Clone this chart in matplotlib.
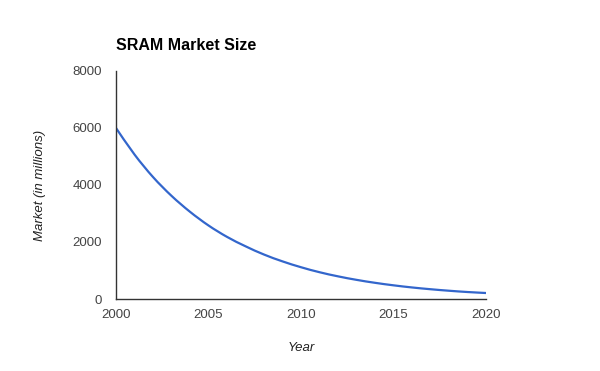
import matplotlib
matplotlib.use("Agg")
import matplotlib.pyplot as plt
from matplotlib.path import Path
from matplotlib.patches import PathPatch

years = [2000, 2001, 2002, 2003, 2004, 2005, 2006, 2007, 2008, 2009, 2010,
         2011, 2012, 2013, 2014, 2015, 2016, 2017, 2018, 2019, 2020]
market = [6000, 5070, 4280, 3620, 3060, 2580, 2180, 1850, 1560, 1320, 1115,
          940, 795, 672, 568, 480, 405, 343, 290, 245, 210]
x_ticks = [2000, 2005, 2010, 2015, 2020]
y_ticks = [0, 2000, 4000, 6000, 8000]

plt.rcParams['font.family'] = ['Liberation Sans', 'DejaVu Sans']

fig = plt.figure(figsize=(6, 3.71), dpi=100)
ax = fig.add_axes([116/600, 1-299/371, (486-116)/600, (299-71)/371])

# smooth curve through the data points (Catmull-Rom as cubic Bezier)
n = len(years)
verts = [(years[0], market[0])]
codes = [Path.MOVETO]
for i in range(n - 1):
    x0, y0 = (years[i-1], market[i-1]) if i > 0 else (years[i], market[i])
    x1, y1 = years[i], market[i]
    x2, y2 = years[i+1], market[i+1]
    x3, y3 = (years[i+2], market[i+2]) if i + 2 < n else (years[i+1], market[i+1])
    c1 = (x1 + (x2 - x0) / 6, y1 + (y2 - y0) / 6)
    c2 = (x2 - (x3 - x1) / 6, y2 - (y3 - y1) / 6)
    verts += [c1, c2, (x2, y2)]
    codes += [Path.CURVE4] * 3
ax.add_patch(PathPatch(Path(verts, codes), facecolor='none', edgecolor='#3366cc',
                       linewidth=1.6, capstyle='round', joinstyle='round'))

ax.set_xlim(2000, 2020)
ax.set_ylim(0, 8000)
ax.set_xticks(x_ticks)
ax.set_yticks(y_ticks)
ax.tick_params(axis='y', length=0, labelsize=9.5, colors='#444444', pad=10)
ax.tick_params(axis='x', length=0, labelsize=9.5, colors='#444444', pad=7)
for s in ['top', 'right']:
    ax.spines[s].set_visible(False)
for s in ['left', 'bottom']:
    ax.spines[s].set_color('#333333')
    ax.spines[s].set_linewidth(1)
ax.set_xlabel('Year', fontstyle='italic', fontsize=9.5, color='#222222', labelpad=15)
ax.set_ylabel('Market (in millions)', fontstyle='italic', fontsize=9.5, color='#222222', labelpad=19)
fig.text(116/600, 1-45/371, 'SRAM Market Size', fontsize=11.5, fontweight='bold',
         ha='left', va='center', color='#000000')
fig.savefig('out.png', dpi=100)
